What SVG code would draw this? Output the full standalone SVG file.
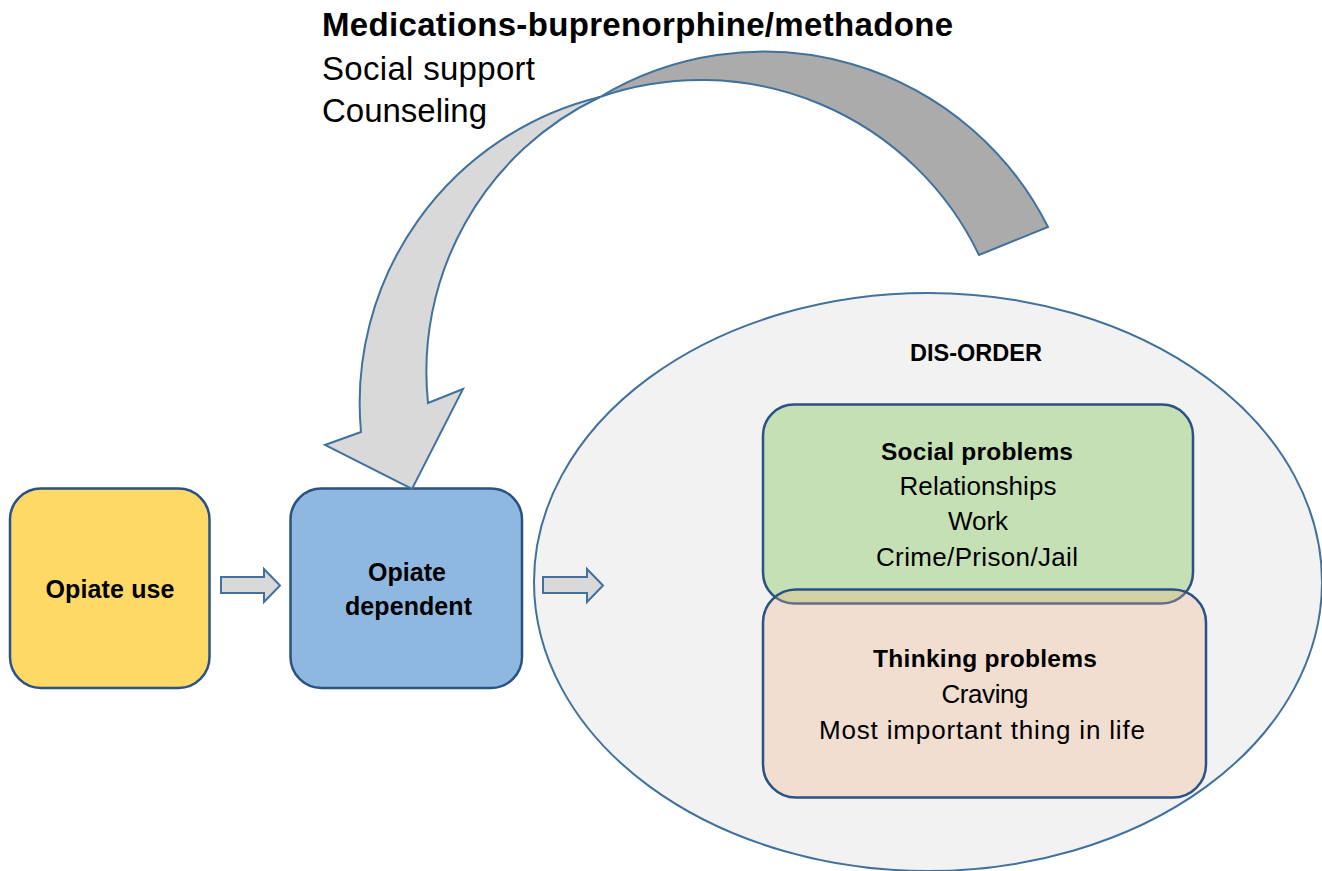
<svg xmlns="http://www.w3.org/2000/svg" width="1322" height="871" viewBox="0 0 1322 871">
  <style>
    text { font-family: "Liberation Sans", Arial, sans-serif; fill: #000; }
    .b { font-weight: bold; }
    .box { stroke: #2A5285; stroke-width: 2.5; }
    .blk { fill: #D9D9D9; stroke: #41719C; stroke-width: 2; stroke-linejoin: miter; }
    .mid { text-anchor: middle; }
  </style>
  <rect width="1322" height="871" fill="#FFFFFF"/>

  <!-- disorder ellipse -->
  <g id="disorder">
    <ellipse cx="928" cy="582" rx="394" ry="289" fill="#F2F2F2" stroke="#41719C" stroke-width="2"/>
    <text class="b mid" x="976" y="361" font-size="23.5">DIS-ORDER</text>
  </g>

  <g id="social-problems">
    <rect class="box" x="763" y="404.5" width="430" height="199" rx="31" fill="#C5E0B4"/>
    <text class="b mid" x="977" y="460" font-size="24.5" textLength="192">Social problems</text>
    <text class="mid" x="978" y="495" font-size="26" textLength="157">Relationships</text>
    <text class="mid" x="978" y="530" font-size="26">Work</text>
    <text class="mid" x="977" y="566" font-size="26" textLength="202">Crime/Prison/Jail</text>
  </g>

  <g id="thinking-problems">
    <rect class="box" x="763" y="589.5" width="443" height="208" rx="33" fill="#EDAE84" fill-opacity="0.3"/>
    <text class="b mid" x="985" y="667" font-size="24.5" textLength="224">Thinking problems</text>
    <text class="mid" x="985" y="703" font-size="26" textLength="87">Craving</text>
    <text class="mid" x="982" y="739" font-size="26" textLength="326">Most important thing in life</text>
  </g>

  <g id="opiate-use">
    <rect class="box" x="10" y="488.5" width="199.5" height="199.5" rx="31" fill="#FFD966"/>
    <text class="b mid" x="110" y="598" font-size="25" textLength="129">Opiate use</text>
  </g>

  <g id="opiate-dependent">
    <rect class="box" x="290.5" y="488.5" width="231.5" height="199.5" rx="31" fill="#8FB8E1"/>
    <text class="b mid" x="407" y="581" font-size="25">Opiate</text>
    <text class="b mid" x="408.5" y="615" font-size="25" textLength="127">dependent</text>
  </g>

  <!-- connectors -->
  <g id="connectors">
    <polygon class="blk" points="221,577 264,577 264,569 280,585.5 264,602 264,593 221,593"/>
    <polygon class="blk" points="543,577 587,577 587,569 603,585.5 587,602 587,593 543,593"/>
    <!-- twisted curved arrow: back half, then front half with head -->
    <path class="blk" fill="#ABABAB" style="fill:#ABABAB" d="M600,97 A318,318 0 0 1 1048,227 L979,255 A308.5,308.5 0 0 0 600,97 Z"/>
    <path class="blk" d="M600,97 A315,315 0 0 0 361,432 L325,445 L412,489 L463,389 L428,403 A304,304 0 0 1 600,97 Z"/>
  </g>

  <g id="treatment-label">
    <text class="b" x="322" y="36" font-size="33" textLength="631">Medications-buprenorphine/methadone</text>
    <text x="322" y="80" font-size="33" textLength="213">Social support</text>
    <text x="322" y="122" font-size="33" textLength="165">Counseling</text>
  </g>
</svg>
